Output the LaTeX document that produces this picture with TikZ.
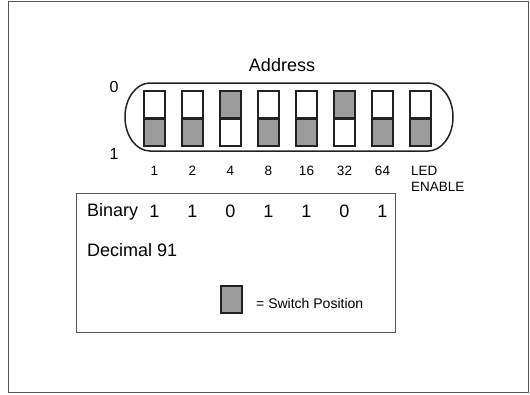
\documentclass[tikz,border=0pt]{standalone}
\usepackage{fontspec}
\setmainfont{Liberation Sans}
\definecolor{swgray}{HTML}{9C9C9C}
\definecolor{edge}{HTML}{222222}
\definecolor{framegray}{HTML}{555555}
\begin{document}
\begin{tikzpicture}[x=1pt,y=-1pt,
  switchbox/.style={draw=edge,line width=2.2pt,minimum width=21pt,minimum height=55pt,inner sep=0pt,fill=white},
  swlow/.style={switchbox,path picture={
     \fill[swgray] (path picture bounding box.south west) rectangle (path picture bounding box.east);
     \draw[edge,line width=2.2pt] (path picture bounding box.west) -- (path picture bounding box.east);}},
  swhigh/.style={switchbox,path picture={
     \fill[swgray] (path picture bounding box.north west) rectangle (path picture bounding box.east);
     \draw[edge,line width=2.2pt] (path picture bounding box.west) -- (path picture bounding box.east);}},
  lbl/.style={inner sep=0pt,anchor=base,font=\fontsize{13.5}{15}\selectfont},
  big/.style={inner sep=0pt,anchor=base,font=\fontsize{18}{20}\selectfont},
  side/.style={inner sep=0pt,anchor=base,font=\fontsize{16}{18}\selectfont}]
\useasboundingbox (0,0) rectangle (530,394);
% outer frame
\draw[framegray,line width=1pt] (8,1.5) rectangle (528,392.5);
% pill
\draw[edge,line width=1.5pt] (150,83) -- (428,83) arc[start angle=-90,end angle=90,x radius=25,y radius=34]
   -- (150,151) arc[start angle=90,end angle=270,x radius=25,y radius=34] -- cycle;
% switches
\node[swlow]  (s1) at (154.5,118.5) {};
\node[swlow]  (s2) at (192.5,118.5) {};
\node[swhigh] (s3) at (230.5,118.5) {};
\node[swlow]  (s4) at (268.5,118.5) {};
\node[swlow]  (s5) at (306.5,118.5) {};
\node[swhigh] (s6) at (344.5,118.5) {};
\node[swlow]  (s7) at (382.5,118.5) {};
\node[swlow]  (s8) at (420.5,118.5) {};
% titles
\node[big] (addr) at (282,71) {Address};
\node[side] (zero) at (114,92.5) {0};
\node[side] (one) at (114,159) {1};
% weights
\node[lbl] (w1) at (154.5,175.7) {1};
\node[lbl] (w2) at (192.5,175.7) {2};
\node[lbl] (w3) at (230.5,175.7) {4};
\node[lbl] (w4) at (268.5,175.7) {8};
\node[lbl] (w5) at (306.5,175.7) {16};
\node[lbl] (w6) at (344.5,175.7) {32};
\node[lbl] (w7) at (382.5,175.7) {64};
\node[lbl,anchor=base west] (led) at (411,175.7) {LED};
\node[lbl,anchor=base west] (enable) at (411,191.5) {ENABLE};
% lower box
\draw[framegray,line width=1pt] (76,193) rectangle (395,332);
\node[big,anchor=base west] (binary) at (87,216.7) {Binary};
\node[big] (b1) at (154.5,217) {1};
\node[big] (b2) at (192.5,217) {1};
\node[big] (b3) at (230.5,217) {0};
\node[big] (b4) at (268.5,217) {1};
\node[big] (b5) at (306.5,217) {1};
\node[big] (b6) at (344.5,217) {0};
\node[big] (b7) at (382.5,217) {1};
\node[big,anchor=base west] (dec) at (87,256.7) {Decimal 91};
\node[draw=edge,line width=2.2pt,fill=swgray,minimum width=21pt,minimum height=27pt,inner sep=0pt] (legend) at (231.5,299.5) {};
\node[inner sep=0pt,anchor=base west,font=\fontsize{14}{16}\selectfont] (legtxt) at (256,308.5) {= Switch Position};
\end{tikzpicture}
\end{document}
